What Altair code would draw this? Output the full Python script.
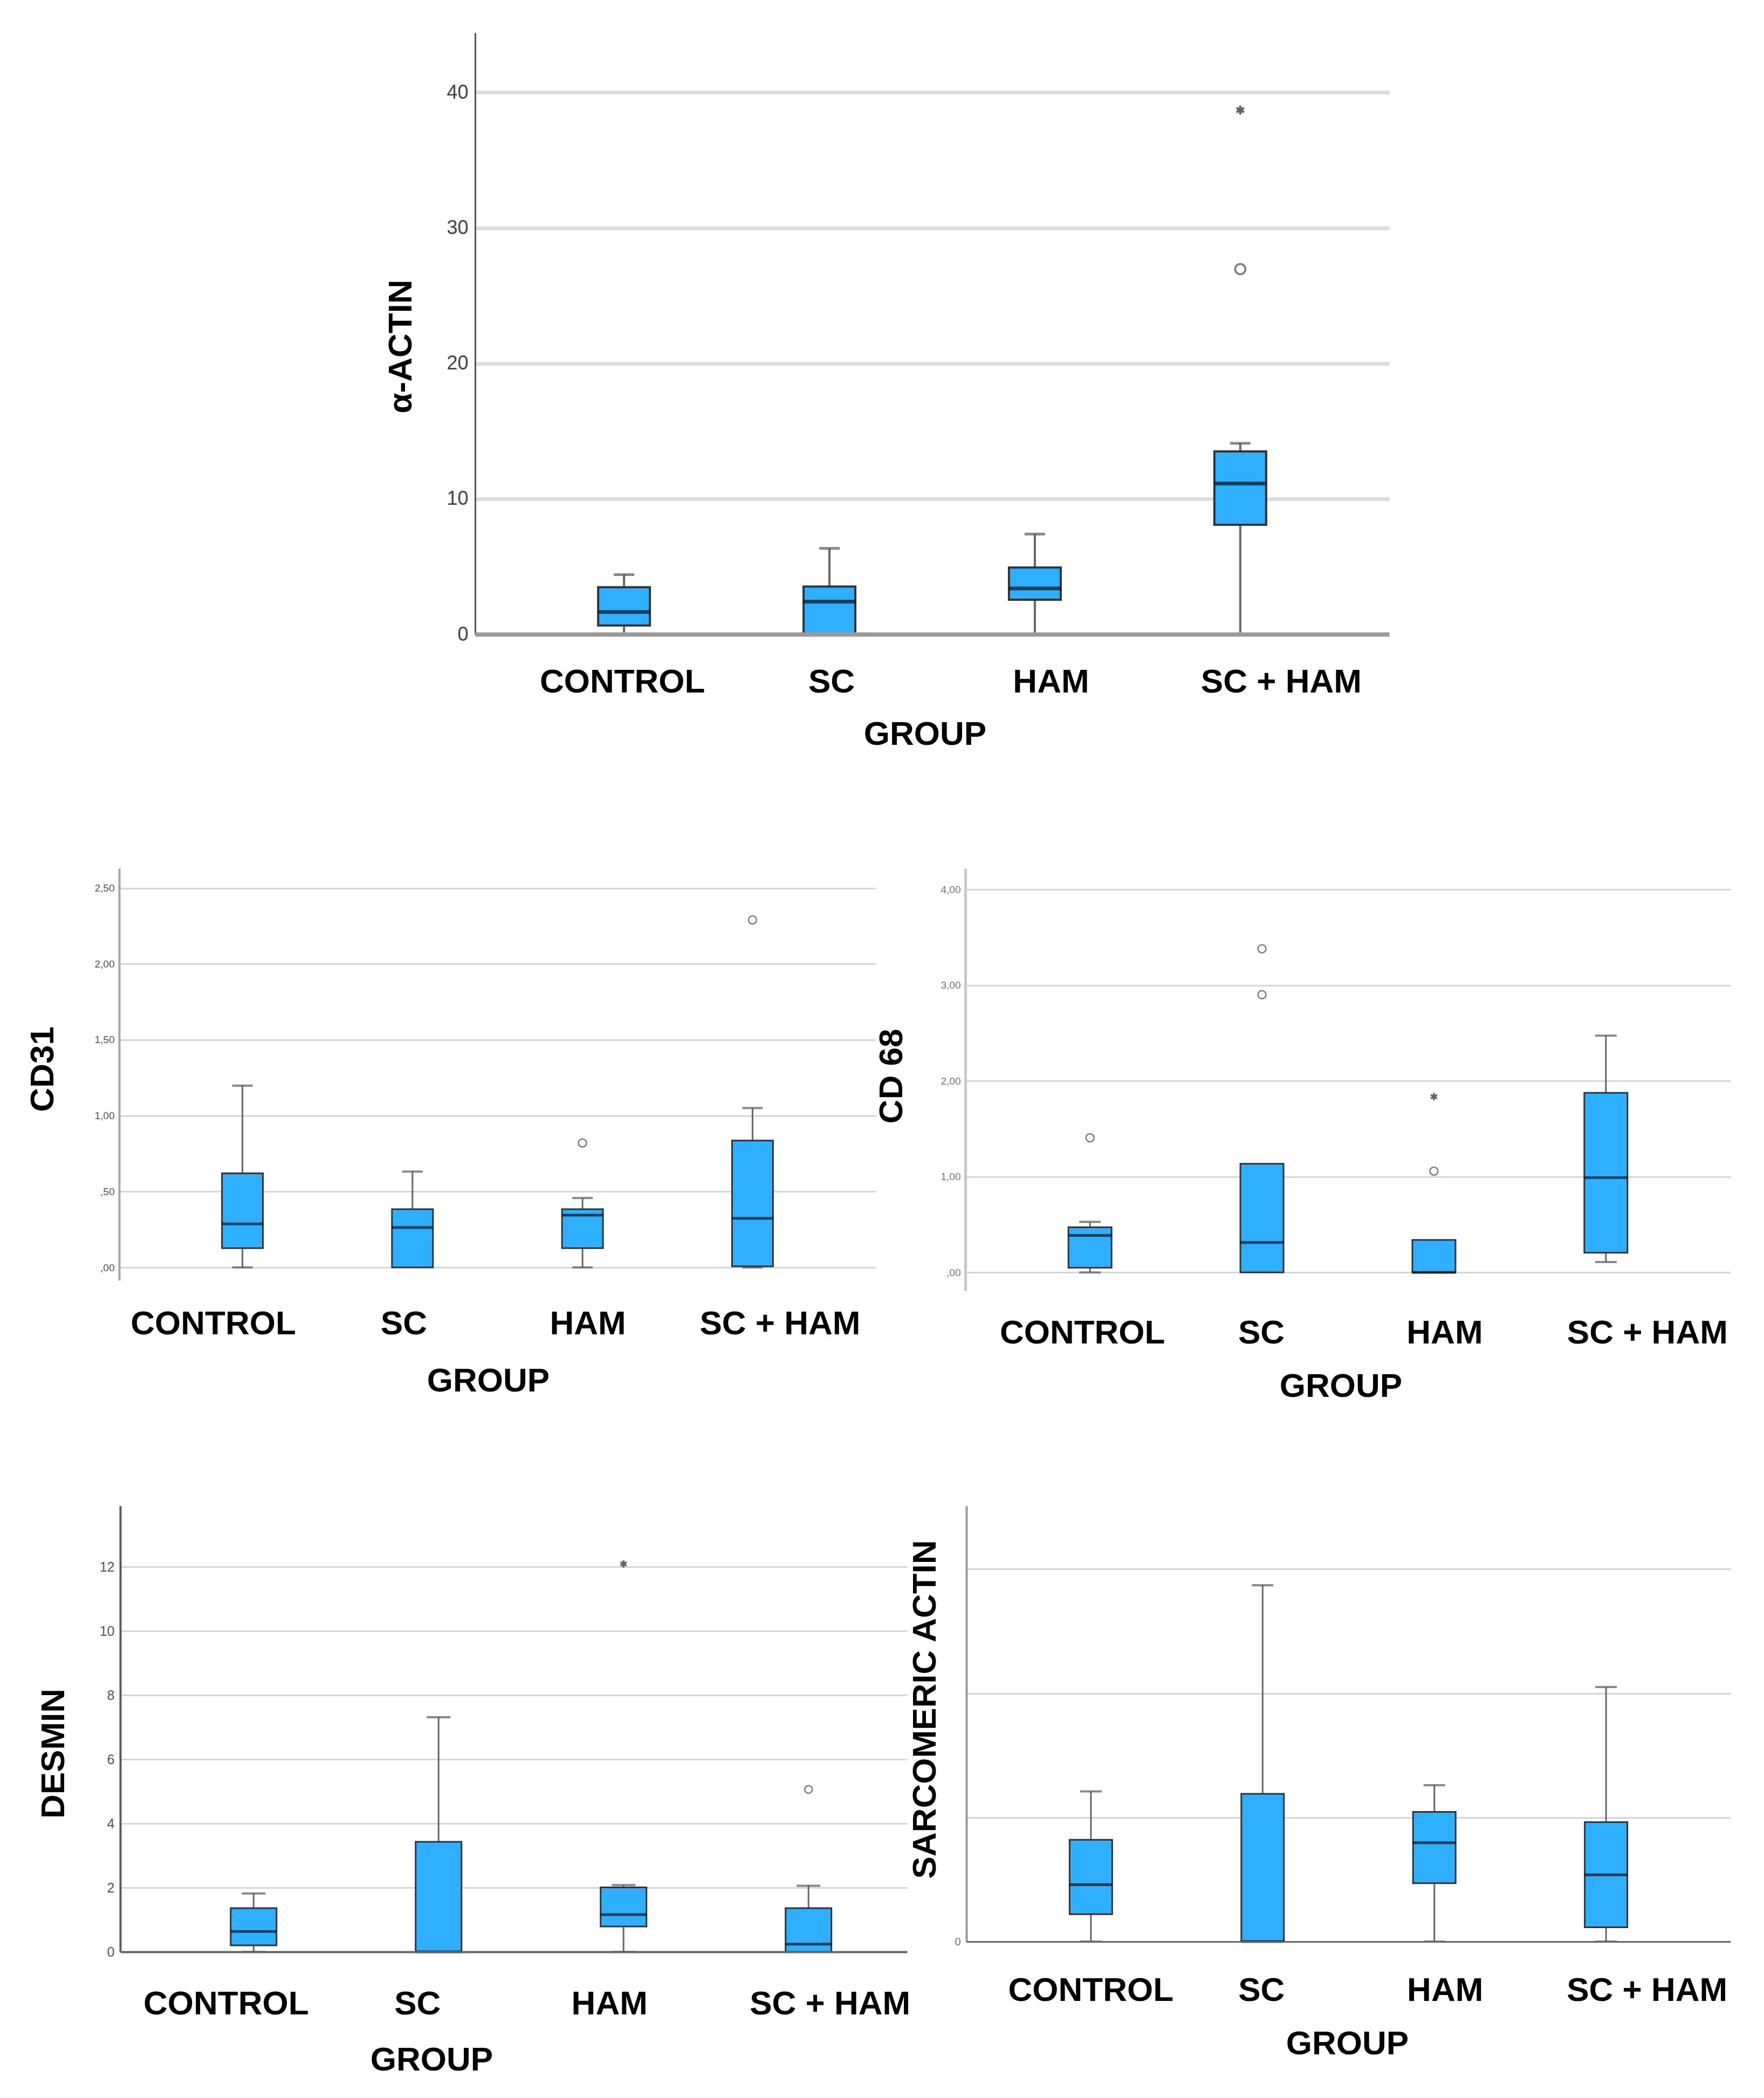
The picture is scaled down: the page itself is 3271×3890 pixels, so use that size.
import altair as alt
import pandas as pd

GROUPS = ["CONTROL", "SC", "HAM", "SC + HAM"]

# ---------------- α-ACTIN ----------------
actin_low = [0.0, 0.0, 0.0, 0.0]
actin_q1 = [0.65, 0.0, 2.55, 8.08]
actin_median = [1.64, 2.41, 3.38, 11.13]
actin_q3 = [3.47, 3.52, 4.93, 13.5]
actin_high = [4.4, 6.34, 7.4, 14.1]
actin_out_group = ["SC + HAM", "SC + HAM"]
actin_out_value = [26.96, 38.7]
actin_out_kind = ["o", "*"]
actin_ticks = [0, 10, 20, 30, 40]

# ---------------- CD31 ----------------
cd31_low = [0.0, 0.0, 0.0, 0.0]
cd31_q1 = [0.127, 0.0, 0.127, 0.007]
cd31_median = [0.287, 0.263, 0.345, 0.324]
cd31_q3 = [0.62, 0.384, 0.384, 0.836]
cd31_high = [1.198, 0.632, 0.458, 1.05]
cd31_out_group = ["HAM", "SC + HAM"]
cd31_out_value = [0.82, 2.29]
cd31_out_kind = ["o", "o"]
cd31_ticks = [0, 0.5, 1.0, 1.5, 2.0, 2.5]

# ---------------- CD 68 ----------------
cd68_low = [0.0, 0.0, 0.0, 0.109]
cd68_q1 = [0.05, 0.0, 0.0, 0.206]
cd68_median = [0.386, 0.312, 0.0, 0.99]
cd68_q3 = [0.472, 1.135, 0.339, 1.875]
cd68_high = [0.528, 1.135, 0.339, 2.473]
cd68_out_group = ["CONTROL", "SC", "SC", "HAM", "HAM"]
cd68_out_value = [1.406, 3.38, 2.90, 1.058, 1.836]
cd68_out_kind = ["o", "o", "o", "o", "*"]
cd68_ticks = [0, 1, 2, 3, 4]

# ---------------- DESMIN ----------------
desmin_low = [0.0, 0.0, 0.0, 0.0]
desmin_q1 = [0.20, 0.0, 0.79, 0.0]
desmin_median = [0.636, 0.0, 1.16, 0.24]
desmin_q3 = [1.36, 3.43, 2.01, 1.36]
desmin_high = [1.82, 7.31, 2.08, 2.06]
desmin_out_group = ["HAM", "SC + HAM"]
desmin_out_value = [12.09, 5.06]
desmin_out_kind = ["*", "o"]
desmin_ticks = [0, 2, 4, 6, 8, 10, 12]

# ---------------- SARCOMERIC ACTIN ----------------
sarc_low = [0.0, 0.0, 0.0, 0.0]
sarc_q1 = [0.22, 0.0, 0.47, 0.115]
sarc_median = [0.458, 0.0, 0.796, 0.538]
sarc_q3 = [0.82, 1.19, 1.045, 0.962]
sarc_high = [1.21, 2.87, 1.26, 2.05]
sarc_out_group = []
sarc_out_value = []
sarc_out_kind = []
sarc_ticks = [0, 1, 2, 3]

FONT = "Liberation Sans"
BIG = 62
BLUE = "#2eafff"
STAR = "M0,-1L0,1M-0.87,-0.5L0.87,0.5M-0.87,0.5L0.87,-0.5"
COMMA = ("datum.value < 1 ? slice(replace(format(datum.value, '.2f'), '.', ','), 1)"
         " : replace(format(datum.value, '.2f'), '.', ',')")


def offset_cond(offsets):
    conds = [{"test": f"datum.value === '{g}'", "value": o}
             for g, o in zip(GROUPS, offsets) if o != 0]
    return {"condition": conds, "value": 0}


def make_panel(title, low, q1, med, q3, high, og, ov, ok, ticks, st):
    box = pd.DataFrame({"group": GROUPS, "low": low, "q1": q1,
                        "median": med, "q3": q3, "high": high})
    cg, cv = [], []
    for g, lo, a, b, hi in zip(GROUPS, low, q1, q3, high):
        if hi > b:
            cg.append(g); cv.append(hi)
        if lo < a:
            cg.append(g); cv.append(lo)
    caps = pd.DataFrame({"group": cg, "cap": cv})
    outs = pd.DataFrame({"group": og, "value": ov, "kind": ok})

    xaxis = alt.Axis(
        labelAngle=0, labelFont=FONT, labelFontSize=BIG, labelFontWeight="bold",
        labelColor="black", labelPadding=st["xlp"], labelLimit=2000,
        ticks=False, tickSize=0, grid=False,
        domain=st["xdomain"], domainColor=st.get("xdc", "#666"), domainWidth=st.get("xdw", 3),
        labelOffset=offset_cond(st["loff"]),
        titleFont=FONT, titleFontSize=BIG, titleFontWeight="bold", titleColor="black",
        titleX=st["gx"], titleY=st["gy"], titleAlign="center", titleBaseline="top",
        zindex=1,
    )
    x = alt.X("group:N", sort=GROUPS, title="GROUP",
              scale=alt.Scale(type="band", domain=GROUPS, paddingInner=0,
                              paddingOuter=st["po"], align=st.get("align", 0.5)),
              axis=xaxis)

    yaxis_kw = dict(
        values=ticks, grid=True, gridColor=st["gc"], gridWidth=st["gw"],
        domain=True, domainColor=st["ydc"], domainWidth=st["ydw"],
        ticks=False, tickSize=0, labelPadding=st["ylp"], labelFont=FONT,
        labelFontSize=st["yfs"], labelColor=st["ylc"],
        titleFont=FONT, titleFontSize=BIG, titleFontWeight="bold", titleColor="black",
        titleAngle=270, titleAlign="center", titleBaseline="middle",
        titleX=st["tx"], titleY=st["ty"],
    )
    if st.get("lexpr"):
        yaxis_kw["labelExpr"] = st["lexpr"]
    yaxis = alt.Axis(**yaxis_kw)

    def Y(field):
        return alt.Y(f"{field}:Q", title=title,
                     scale=alt.Scale(domain=st["ydom"], nice=False, zero=False),
                     axis=yaxis)

    layers = [
        alt.Chart(box).mark_rule(color="#666666", strokeWidth=st["ww"]).encode(
            x=x, y=Y("low"), y2="high"),
    ]
    if len(caps):
        layers.append(alt.Chart(caps).mark_tick(
            color="#555555", thickness=st["ct"], size=st["capw"]).encode(x=x, y=Y("cap")))
    layers.append(alt.Chart(box).mark_bar(
        size=st["bw"], fill=BLUE, stroke="#333333", strokeWidth=st["bsw"]).encode(
        x=x, y=Y("q1"), y2="q3"))
    layers.append(alt.Chart(box).mark_tick(
        color="#111111", thickness=st["mt"], size=st["bw"]).encode(x=x, y=Y("median")))
    circ = outs[outs["kind"] == "o"]
    star = outs[outs["kind"] == "*"]
    if len(circ):
        layers.append(alt.Chart(circ).mark_point(
            shape="circle", filled=False, size=st["osz"], color="#444444",
            strokeWidth=st["osw"]).encode(x=x, y=Y("value")))
    if len(star):
        layers.append(alt.Chart(star).mark_point(
            shape=STAR, filled=False, size=st["ssz"], color="#222222",
            strokeWidth=st["osw"] + 1).encode(x=x, y=Y("value")))
    return alt.layer(*layers).properties(width=st["w"], height=st["h"])


def spacer(w, h):
    return alt.Chart(pd.DataFrame({"s": [0]})).mark_point(
        opacity=0, size=1).encode(x=alt.value(2), y=alt.value(2)).properties(width=w, height=h)


top = make_panel(
    "α-ACTIN", actin_low, actin_q1, actin_median, actin_q3, actin_high,
    actin_out_group, actin_out_value, actin_out_kind, actin_ticks,
    dict(w=1695, h=1115, ydom=[0, 44.4], po=0.225, bw=96, capw=38, ww=4, ct=5, bsw=4, mt=7,
         gc="#dcdcdc", gw=7, ydc="#555555", ydw=3, xdomain=True, xdc="#9a9a9a", xdw=8,
         yfs=36, ylc="#444444", ylp=13, xlp=58, tx=-138, ty=581, gx=834, gy=155,
         loff=[-3, 4, 30, 76], osz=361, ssz=260, osw=3.5))

cd31 = make_panel(
    "CD31", cd31_low, cd31_q1, cd31_median, cd31_q3, cd31_high,
    cd31_out_group, cd31_out_value, cd31_out_kind, cd31_ticks,
    dict(w=1403, h=764, ydom=[-0.085, 2.63], po=0.225, bw=76, capw=38, ww=3, ct=4, bsw=3, mt=5,
         gc="#d6d6d6", gw=3, ydc="#a6a6a6", ydw=4, xdomain=False,
         yfs=19, ylc="#555555", ylp=9, xlp=50, tx=-142, ty=372, gx=684, gy=156,
         loff=[-54, -16, 10, 51], osz=225, ssz=200, osw=2.5, lexpr=COMMA))

cd68 = make_panel(
    "CD 68", cd68_low, cd68_q1, cd68_median, cd68_q3, cd68_high,
    cd68_out_group, cd68_out_value, cd68_out_kind, cd68_ticks,
    dict(w=1419, h=783, ydom=[-0.19, 4.22], po=0.225, bw=80, capw=40, ww=3, ct=4, bsw=3, mt=5,
         gc="#d6d6d6", gw=3, ydc="#c8c8c8", ydw=5, xdomain=False,
         yfs=19, ylc="#777777", ylp=9, xlp=48, tx=-137, ty=385, gx=696, gy=147,
         loff=[-14, -1, 20, 77], osz=225, ssz=180, osw=2.5, lexpr=COMMA))

desmin = make_panel(
    "DESMIN", desmin_low, desmin_q1, desmin_median, desmin_q3, desmin_high,
    desmin_out_group, desmin_out_value, desmin_out_kind, desmin_ticks,
    dict(w=1459, h=827, ydom=[0, 13.9], po=0.127, align=0.87, bw=85, capw=44, ww=3, ct=4, bsw=3,
         mt=5, gc="#d6d6d6", gw=3, ydc="#5a5a5a", ydw=4, xdomain=True, xdc="#666666", xdw=4,
         yfs=25, ylc="#555555", ylp=11, xlp=66, tx=-124, ty=459, gx=577, gy=170,
         loff=[-51, -39, -26, 40], osz=200, ssz=180, osw=2.5))

sarc = make_panel(
    "SARCOMERIC ACTIN", sarc_low, sarc_q1, sarc_median, sarc_q3, sarc_high,
    sarc_out_group, sarc_out_value, sarc_out_kind, sarc_ticks,
    dict(w=1417, h=808, ydom=[0, 3.51], po=0.225, bw=79, capw=40, ww=3, ct=4, bsw=3, mt=5,
         gc="#d6d6d6", gw=3, ydc="#999999", ydw=4, xdomain=True, xdc="#666666", xdw=3,
         yfs=20, ylc="#777777", ylp=11, xlp=60, tx=-77, ty=377, gx=706, gy=159,
         loff=[0, -2, 20, 76], osz=200, ssz=180, osw=2.5,
         lexpr="datum.value === 0 ? '0' : ''"))

row1 = alt.hconcat(spacer(863, 1529), top, spacing=10, bounds="flush")
row2 = alt.hconcat(spacer(47, 1162), cd31, cd68, spacing=166, bounds="flush")
row3 = alt.hconcat(spacer(105, 10), desmin, sarc, spacing=110, bounds="flush")

chart = alt.vconcat(row1, row2, row3, spacing=20).properties(
    padding={"left": 0, "top": 53, "right": 10, "bottom": 10},
    background="white",
).configure_view(stroke=None)

chart.save("out.html", embed_options={"renderer": "svg", "actions": False})
